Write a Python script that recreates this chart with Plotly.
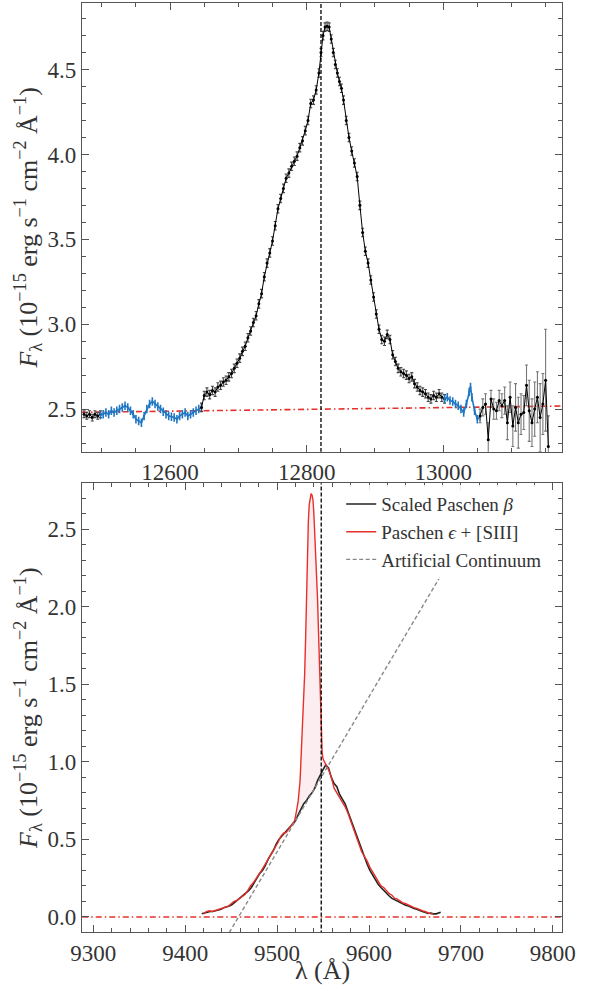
import plotly.graph_objects as go

# ---------------- Top panel data (Paschen beta region) ----------------
wl_a = [12474, 12478, 12482, 12486, 12490, 12494, 12498]
fl_a = [2.47, 2.46, 2.47, 2.45, 2.47, 2.46, 2.47]
er_a = [0.02, 0.02, 0.02, 0.02, 0.02, 0.02, 0.02]

wl_b = [12498, 12502, 12506, 12510, 12514, 12518, 12522, 12526, 12530, 12534,
        12538, 12542, 12546, 12550, 12554, 12558, 12562, 12566, 12570, 12574,
        12578, 12582, 12586, 12590, 12594, 12598, 12602, 12606, 12610, 12614,
        12618, 12622, 12626, 12630, 12634, 12638, 12642, 12646]
fl_b = [2.465, 2.47, 2.48, 2.47, 2.49, 2.48, 2.49, 2.50, 2.51, 2.52,
        2.51, 2.49, 2.47, 2.44, 2.43, 2.42, 2.46, 2.50, 2.53, 2.545,
        2.53, 2.515, 2.50, 2.485, 2.47, 2.46, 2.455, 2.45, 2.44, 2.46,
        2.47, 2.48, 2.46, 2.47, 2.48, 2.49, 2.50, 2.51]
er_b = [0.025] * len(wl_b)

wl_c = [12646, 12650, 12654, 12658, 12662, 12666, 12670, 12674, 12678, 12682,
        12686, 12690, 12694, 12698, 12702, 12706, 12710, 12714, 12718, 12722,
        12726, 12730, 12734, 12738, 12742, 12746, 12750, 12754, 12758, 12762,
        12766, 12770, 12774, 12778, 12782, 12786, 12790, 12794, 12798, 12802,
        12806, 12810, 12814, 12818, 12821, 12824, 12827, 12830, 12833, 12836,
        12839, 12842, 12845, 12848, 12851, 12854, 12858, 12862, 12866, 12870,
        12874, 12878, 12882, 12886, 12890, 12894, 12898, 12902, 12906, 12910,
        12914, 12918, 12922, 12926, 12930, 12934, 12938, 12942, 12946, 12950,
        12954, 12958, 12962, 12966, 12970, 12974, 12978, 12982, 12986, 12990,
        12994, 12998, 13002]
fl_c = [2.51, 2.58, 2.60, 2.585, 2.61, 2.60, 2.63, 2.64, 2.66, 2.67,
        2.69, 2.71, 2.74, 2.77, 2.80, 2.84, 2.87, 2.92, 2.96, 3.01,
        3.05, 3.12, 3.18, 3.28, 3.36, 3.42, 3.49, 3.58, 3.68, 3.74,
        3.80, 3.86, 3.89, 3.93, 3.96, 3.99, 4.04, 4.08, 4.14, 4.20,
        4.30, 4.32, 4.38, 4.48, 4.60, 4.70, 4.75, 4.755, 4.75, 4.68,
        4.60, 4.53, 4.48, 4.43, 4.39, 4.32, 4.20, 4.10, 4.02, 3.95,
        3.87, 3.70, 3.54, 3.43, 3.36, 3.26, 3.16, 3.06, 2.97, 2.91,
        2.90, 2.94, 2.91, 2.82, 2.78, 2.74, 2.72, 2.71, 2.70, 2.68,
        2.69, 2.65, 2.63, 2.61, 2.60, 2.59, 2.57, 2.56, 2.58, 2.57,
        2.59, 2.57, 2.56]
er_c = [0.025] * len(wl_c)

wl_d = [13002, 13006, 13010, 13014, 13018, 13022, 13026, 13030, 13034, 13038,
        13040, 13042, 13046, 13050, 13054]
fl_d = [2.56, 2.57, 2.55, 2.545, 2.53, 2.52, 2.50, 2.48, 2.53, 2.60,
        2.63, 2.57, 2.49, 2.44, 2.455]
er_d = [0.025] * len(wl_d)

wl_e = [13054, 13058, 13062, 13066, 13070, 13074, 13078, 13082, 13086, 13090,
        13094, 13098, 13102, 13106, 13110, 13114, 13118, 13122, 13126, 13130,
        13134, 13138, 13142, 13146, 13150, 13154]
fl_e = [2.46, 2.51, 2.53, 2.32, 2.56, 2.50, 2.49, 2.55, 2.52, 2.55,
        2.42, 2.57, 2.40, 2.51, 2.42, 2.47, 2.48, 2.64, 2.49, 2.42,
        2.50, 2.57, 2.45, 2.53, 2.67, 2.28]
er_e = [0.04, 0.05, 0.06, 0.10, 0.05, 0.06, 0.05, 0.06, 0.07, 0.08,
        0.10, 0.09, 0.12, 0.14, 0.15, 0.12, 0.10, 0.12, 0.18, 0.14,
        0.16, 0.15, 0.20, 0.18, 0.30, 0.18]

cont_top_x = [12471, 13174]
cont_top_y = [2.481, 2.518]
line_center_top = 12821

# ---------------- Bottom panel data ----------------
pb_x = [9418, 9421, 9424, 9427, 9430, 9433, 9436, 9439, 9442, 9445,
        9448, 9451, 9454, 9457, 9460, 9463, 9466, 9469, 9472, 9475,
        9478, 9481, 9484, 9487, 9490, 9493, 9496, 9499, 9502, 9505,
        9508, 9511, 9514, 9517, 9520, 9523, 9526, 9529, 9532, 9535,
        9538, 9541, 9544, 9547, 9550, 9553, 9556, 9559, 9562, 9565,
        9568, 9571, 9574, 9577, 9580, 9583, 9586, 9589, 9592, 9595,
        9598, 9601, 9604, 9607, 9610, 9613, 9616, 9619, 9622, 9625,
        9628, 9631, 9634, 9637, 9640, 9643, 9646, 9649, 9652, 9655,
        9658, 9661, 9664, 9667, 9670, 9673, 9676, 9678]
pb_y = [0.02, 0.025, 0.03, 0.035, 0.035, 0.04, 0.045, 0.05, 0.06, 0.065,
        0.07, 0.08, 0.095, 0.11, 0.125, 0.135, 0.15, 0.17, 0.19, 0.22,
        0.25, 0.28, 0.30, 0.33, 0.37, 0.40, 0.43, 0.47, 0.50, 0.52,
        0.54, 0.56, 0.58, 0.60, 0.62, 0.66, 0.70, 0.73, 0.75, 0.78,
        0.80, 0.83, 0.88, 0.92, 0.95, 0.98, 0.96, 0.90, 0.86, 0.84,
        0.79, 0.76, 0.73, 0.68, 0.63, 0.58, 0.53, 0.48, 0.43, 0.39,
        0.34, 0.30, 0.27, 0.24, 0.21, 0.19, 0.17, 0.15, 0.135, 0.12,
        0.11, 0.10, 0.09, 0.085, 0.075, 0.07, 0.06, 0.055, 0.05, 0.04,
        0.035, 0.03, 0.022, 0.025, 0.02, 0.02, 0.025, 0.03]

pe_x = [9420, 9423, 9426, 9429, 9432, 9435, 9438, 9441, 9444, 9447,
        9450, 9453, 9456, 9459, 9462, 9465, 9468, 9471, 9474, 9477,
        9480, 9483, 9486, 9489, 9492, 9495, 9498, 9501, 9504, 9507,
        9510, 9513, 9516, 9519, 9521, 9523, 9525, 9526, 9527, 9528,
        9529, 9530, 9531, 9532, 9533, 9534, 9535, 9536, 9537, 9538,
        9539, 9540, 9541, 9542, 9543, 9544, 9545, 9546, 9547, 9548,
        9549, 9550, 9552, 9554, 9556, 9559, 9562, 9565, 9568, 9571,
        9574, 9577, 9580, 9583, 9586, 9589, 9592, 9595, 9598, 9601,
        9604, 9607, 9610, 9613, 9616, 9619, 9622, 9625, 9628, 9631,
        9634, 9637, 9640, 9643, 9646, 9649, 9652, 9655, 9658, 9661,
        9664, 9667, 9670]
pe_y = [0.02, 0.035, 0.04, 0.035, 0.04, 0.045, 0.05, 0.055, 0.065, 0.07,
        0.085, 0.10, 0.105, 0.12, 0.13, 0.145, 0.17, 0.20, 0.22, 0.245,
        0.27, 0.30, 0.33, 0.36, 0.39, 0.42, 0.45, 0.48, 0.52, 0.54,
        0.545, 0.57, 0.59, 0.62, 0.68, 0.75, 0.88, 1.00, 1.12, 1.25,
        1.40, 1.57, 1.79, 2.05, 2.35, 2.55, 2.66, 2.71, 2.73, 2.72,
        2.69, 2.60, 2.48, 2.35, 2.22, 2.05, 1.85, 1.62, 1.40, 1.15,
        1.06, 1.02, 0.99, 0.97, 0.95, 0.90, 0.83, 0.80, 0.77, 0.74,
        0.71, 0.67, 0.62, 0.57, 0.52, 0.46, 0.42, 0.39, 0.36, 0.32,
        0.29, 0.26, 0.23, 0.20, 0.19, 0.17, 0.15, 0.14, 0.12, 0.115,
        0.10, 0.09, 0.085, 0.075, 0.07, 0.06, 0.055, 0.045, 0.04, 0.035,
        0.025, 0.02, 0.02]

cont_bot_x = [9448, 9678]
cont_bot_y = [-0.10, 2.20]
fill_range = [9519, 9556]
line_center_bot = 9548
zero_x = [9288, 9810]
zero_y = [0.0, 0.0]

# ---------------- Figure ----------------
FONT = "Liberation Serif"
AXC = "#555555"
TXT = "#333333"
RED = "#e8302a"
BLUE = "#1f77c4"

fig = go.Figure()

fig.add_trace(go.Scatter(x=cont_top_x, y=cont_top_y, mode="lines",
                         line=dict(color=RED, width=1.6, dash="6px,3px,1.5px,3px"),
                         showlegend=False, xaxis="x", yaxis="y"))

def seg(wl, fl, er, color, ecol, lw, ms, cap, eth):
    fig.add_trace(go.Scatter(x=wl, y=fl, mode="lines+markers",
                             line=dict(color=color, width=lw),
                             marker=dict(color=color, size=ms),
                             error_y=dict(type="data", array=er, color=ecol,
                                          thickness=eth, width=cap),
                             showlegend=False, xaxis="x", yaxis="y"))

seg(wl_a, fl_a, er_a, "black", "#444444", 1, 3, 1.5, 1.1)
seg(wl_b, fl_b, er_b, BLUE, BLUE, 1.6, 2, 0, 1.6)
seg(wl_c, fl_c, er_c, "black", "#444444", 1, 3, 1.5, 1.1)
seg(wl_d, fl_d, er_d, BLUE, BLUE, 1.6, 2, 0, 1.6)
seg(wl_e, fl_e, er_e, "black", "#777777", 1, 3, 1.5, 1.1)

fig.add_trace(go.Scatter(x=[line_center_top, line_center_top], y=[2.0, 5.0], mode="lines",
                         line=dict(color="black", width=1.3, dash="4px,2px"),
                         showlegend=False, xaxis="x", yaxis="y"))

# bottom panel
fx_r = [x for x in pe_x if fill_range[0] <= x <= fill_range[1]]
fy_r = [y for x, y in zip(pe_x, pe_y) if fill_range[0] <= x <= fill_range[1]]
fx_b = [x for x in pb_x if fill_range[0] <= x <= fill_range[1]]
fy_b = [y for x, y in zip(pb_x, pb_y) if fill_range[0] <= x <= fill_range[1]]
fig.add_trace(go.Scatter(x=fx_r + fx_b[::-1], y=fy_r + fy_b[::-1], mode="lines",
                         fill="toself", fillcolor="rgba(235,150,160,0.16)",
                         line=dict(width=0), showlegend=False,
                         xaxis="x2", yaxis="y2", hoverinfo="skip"))

fig.add_trace(go.Scatter(x=zero_x, y=zero_y, mode="lines",
                         line=dict(color=RED, width=1.6, dash="6px,3px,1.5px,3px"),
                         showlegend=False, xaxis="x2", yaxis="y2"))
fig.add_trace(go.Scatter(x=pb_x, y=pb_y, mode="lines", name="Scaled Paschen <i>β</i>",
                         line=dict(color="#222222", width=1.6),
                         xaxis="x2", yaxis="y2"))
fig.add_trace(go.Scatter(x=pe_x, y=pe_y, mode="lines", name="Paschen <i>ϵ</i> + [SIII]",
                         line=dict(color=RED, width=1.4),
                         xaxis="x2", yaxis="y2"))
fig.add_trace(go.Scatter(x=cont_bot_x, y=cont_bot_y, mode="lines", name="Artificial Continuum",
                         line=dict(color="#888888", width=1.4, dash="4px,2.5px"),
                         xaxis="x2", yaxis="y2"))
fig.add_trace(go.Scatter(x=[line_center_bot, line_center_bot], y=[-0.5, 3.0], mode="lines",
                         line=dict(color="black", width=1.3, dash="4px,2px"),
                         showlegend=False, xaxis="x2", yaxis="y2"))

ytitle = ("<i>F</i><sub>λ</sub> (10<sup>−15</sup> erg s<sup>−1</sup> "
          "cm<sup>−2</sup> Å<sup>−1</sup>)")

TICKSIZE = 23
TITLESIZE = 26

def ax_common():
    return dict(showline=True, linecolor=AXC, linewidth=1.3, mirror="ticks",
                ticks="inside", ticklen=7, tickwidth=1.1, tickcolor=AXC,
                showgrid=False, zeroline=False, automargin=False,
                tickfont=dict(family=FONT, size=TICKSIZE, color=TXT))

fig.update_layout(
    width=593, height=991,
    margin=dict(l=82, r=31, t=3, b=59),
    paper_bgcolor="white", plot_bgcolor="white",
    font=dict(family=FONT, color=TXT),
    xaxis=dict(**ax_common(), range=[12471, 13174], dtick=200, tick0=12600,
               tickformat="d", domain=[0, 1], anchor="y",
               minor=dict(dtick=50, tick0=12600, ticklen=4, ticks="inside", tickcolor=AXC)),
    yaxis=dict(**ax_common(), range=[2.249, 4.892], dtick=0.5, tick0=2.5,
               tickformat=".1f", domain=[0.517, 1.0], anchor="x",
               title=dict(text=ytitle, font=dict(family=FONT, size=TITLESIZE, color=TXT), standoff=2),
               minor=dict(dtick=0.1, tick0=2.5, ticklen=4, ticks="inside", tickcolor=AXC)),
    xaxis2=dict(**ax_common(), range=[9287.7, 9810], dtick=100, tick0=9300,
                tickformat="d", domain=[0, 1], anchor="y2",
                minor=dict(dtick=20, tick0=9300, ticklen=4, ticks="inside", tickcolor=AXC)),
    yaxis2=dict(**ax_common(), range=[-0.097, 2.796], dtick=0.5, tick0=0,
                tickformat=".1f", domain=[0.0, 0.483], anchor="x2",
                title=dict(text=ytitle, font=dict(family=FONT, size=TITLESIZE, color=TXT), standoff=2),
                minor=dict(dtick=0.1, tick0=0, ticklen=4, ticks="inside", tickcolor=AXC)),
    legend=dict(x=0.54, y=0.481, xref="paper", yref="paper", xanchor="left", yanchor="top",
                bgcolor="rgba(255,255,255,0.85)", borderwidth=0,
                font=dict(family=FONT, size=19, color=TXT), tracegroupgap=0),
    showlegend=True,
    annotations=[dict(text="λ (Å)", xref="paper", yref="paper", x=0.5, y=-0.041,
                      xanchor="center", yanchor="middle", showarrow=False,
                      font=dict(family=FONT, size=TITLESIZE, color=TXT))],
)

fig.write_html("out.html", config={"displayModeBar": False},
               post_script="document.body.style.margin='0px';document.body.style.overflow='hidden';")
